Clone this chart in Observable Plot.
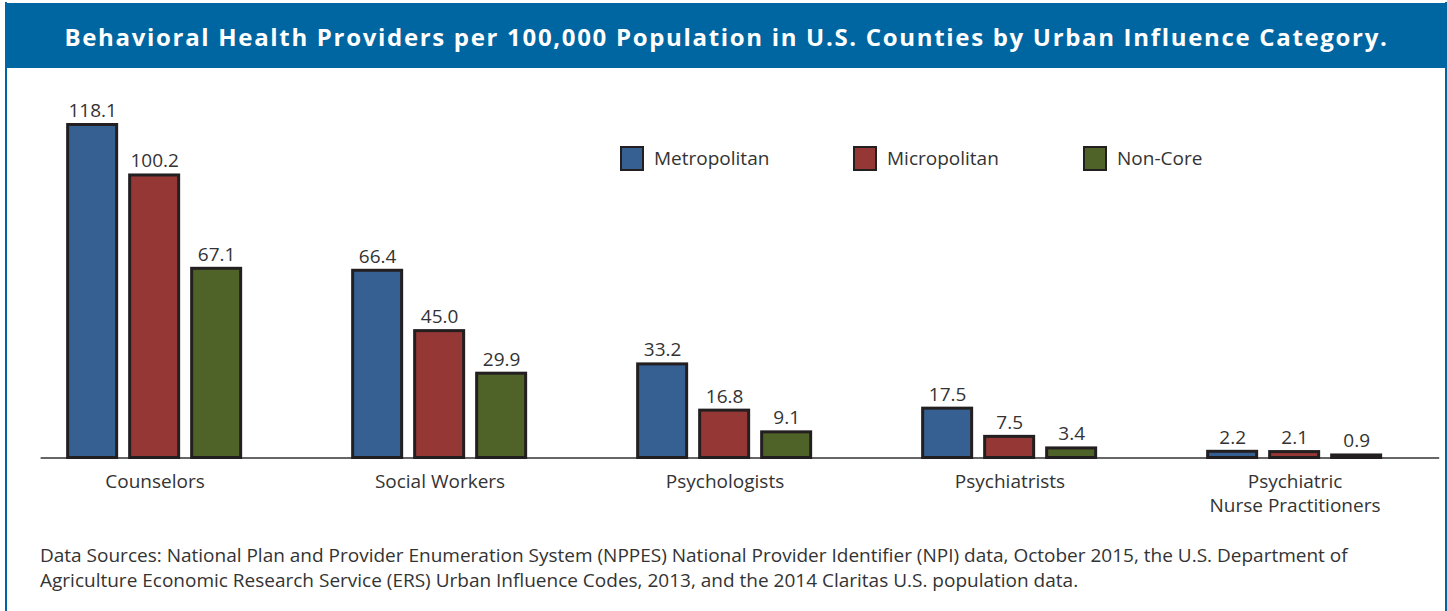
<!DOCTYPE html>
<html>
<head>
<meta charset="utf-8">
<script src="https://cdn.jsdelivr.net/npm/d3@7"></script>
<script src="https://cdn.jsdelivr.net/npm/@observablehq/plot@0.6"></script>
<style>
  html, body { margin: 0; padding: 0; background: #fff; }
  body { font-family: "Open Sans", "Noto Sans", sans-serif; color: #333; }
  #wrap { position: relative; width: 1447px; height: 611px; overflow: hidden; }
  #frame { position: absolute; left: 5px; top: 2px; width: 1438px; height: 620px;
           border-left: 2px solid #0066a1; border-right: 2px solid #0066a1; }
  #title { position: absolute; left: 6px; top: 3px; width: 1441px; height: 65px; background: #0066a1;
           color: #fff; font-weight: 700; font-size: 24px; letter-spacing: 1.68px;
           display: flex; align-items: center; justify-content: center; box-sizing: border-box; padding-top: 1px; padding-right: 0px; white-space: nowrap; }
  #chart { position: absolute; left: 0; top: 68px; }
  #legend { position: absolute; top: 145px; left: 0; height: 25px; }
  .item { position: absolute; top: 0; display: flex; align-items: center; font-size: 19px; color: #333; white-space: nowrap; }
  .sw { width: 20px; height: 21px; border: 2.5px solid #231f20; margin-right: 10px; }
  #caption { position: absolute; left: 40px; top: 543px; font-size: 19px; line-height: 25px; color: #333; white-space: nowrap; }
</style>
</head>
<body>
<div id="wrap">
  <div id="frame"></div>
  <div id="title"></div>
  <div id="chart"></div>
  <div id="legend"></div>
  <div id="caption"></div>
</div>
<script>
const titleText = "Behavioral Health Providers per 100,000 Population in U.S. Counties by Urban Influence Category.";
const categories = ["Counselors", "Social Workers", "Psychologists", "Psychiatrists", "Psychiatric\nNurse Practitioners"];
const series = ["Metropolitan", "Micropolitan", "Non-Core"];
const metropolitan = [118.1, 66.4, 33.2, 17.5, 2.2];
const micropolitan = [100.2, 45.0, 16.8, 7.5, 2.1];
const nonCore = [67.1, 29.9, 9.1, 3.4, 0.9];
const seriesColors = ["#366092", "#953735", "#4f6228"];
const captionLines = [
  "Data Sources: National Plan and Provider Enumeration System (NPPES) National Provider Identifier (NPI) data, October 2015, the U.S. Department of",
  "Agriculture Economic Research Service (ERS) Urban Influence Codes, 2013, and the 2014 Claritas U.S. population data."
];

const values = [metropolitan, micropolitan, nonCore];
const rows = [];
categories.forEach((c, i) => series.forEach((s, j) => rows.push({category: c, series: s, value: values[j][i]})));

document.getElementById("title").textContent = titleText;
const cap = document.getElementById("caption");
captionLines.forEach((l, i) => { const d = document.createElement("div"); d.textContent = l; cap.appendChild(d); });

const W = 1447, H = 470;
const baseY = 389.5;          // baseline within svg
const pxPerUnit = 333 / 118.1;
const yMax = 130;
const marginTop = baseY - yMax * pxPerUnit;

const chart = Plot.plot({
  width: W,
  height: H,
  marginLeft: 11.35,
  marginRight: 9.15,
  marginTop: marginTop,
  marginBottom: H - baseY,
  style: {fontFamily: "'Open Sans', 'Noto Sans', sans-serif", fontSize: "19px", color: "#333", background: "transparent"},
  fx: {domain: categories, padding: 0, label: null},
  x: {domain: series, paddingInner: 0.207, paddingOuter: 0.88, axis: null},
  y: {domain: [0, yMax], axis: null},
  color: {domain: series, range: seriesColors},
  marks: [
    Plot.ruleY([{category: categories[0]}], {fx: "category", y: d => 0, insetLeft: 28.6, stroke: "#333", strokeWidth: 1.7}),
    Plot.ruleY(categories.slice(1, 4).map(c => ({category: c})), {fx: "category", y: d => 0, stroke: "#333", strokeWidth: 1.7}),
    Plot.ruleY([{category: categories[4]}], {fx: "category", y: d => 0, insetRight: -2.2, stroke: "#333", strokeWidth: 1.7}),
    Plot.barY(rows, {fx: "category", x: "series", y: "value", fill: "series", stroke: "#231f20", strokeWidth: 3}),
    Plot.text(rows, {fx: "category", x: "series", y: "value", text: d => d.value.toFixed(1), lineAnchor: "bottom", dy: -8, fill: "#333", fontSize: 19}),
    Plot.axisFx({anchor: "bottom", tickSize: 0, tickPadding: 13, lineHeight: 1.25, fontSize: 19, fill: "#333", label: null})
  ]
});
document.getElementById("chart").appendChild(chart);

const legend = document.getElementById("legend");
const legendX = [620, 853, 1083];
series.forEach((s, i) => {
  const it = document.createElement("div");
  it.className = "item";
  it.style.left = legendX[i] + "px";
  const sw = document.createElement("div");
  sw.className = "sw";
  sw.style.background = seriesColors[i];
  const t = document.createElement("span");
  t.textContent = s;
  it.appendChild(sw); it.appendChild(t);
  legend.appendChild(it);
});
</script>
</body>
</html>
